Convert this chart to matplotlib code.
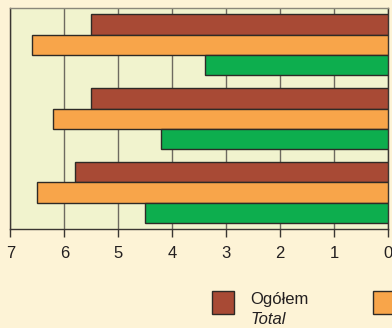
import matplotlib
matplotlib.use("Agg")
import matplotlib.pyplot as plt
from matplotlib.patches import Rectangle
import numpy as np

# Values per group (top to bottom), three series each
groups = ["A", "B", "C"]
ogolem = [5.5, 5.5, 5.8]
series2 = [6.6, 6.2, 6.5]
series3 = [3.4, 4.2, 4.5]
xticks = [7, 6, 5, 4, 3, 2, 1, 0]

RED = "#A84A35"
ORANGE = "#F8A54A"
GREEN = "#0DAE4E"
EDGE = "#2E2A26"
FIG_BG = "#FDF3D6"
AX_BG = "#F1F3CE"

FONT = ["Liberation Sans Narrow", "Liberation Sans", "DejaVu Sans"]

fig = plt.figure(figsize=(3.92, 3.28), dpi=100, facecolor=FIG_BG)
ax = fig.add_axes([10.3 / 392, 1 - 229.3 / 328, (388 - 10.3) / 392, (229.3 - 8.3) / 328])
ax.set_facecolor(AX_BG)

y = np.arange(len(groups))
h = 0.273
for vals, off, col in [(ogolem, -h, RED), (series2, 0.0, ORANGE), (series3, h, GREEN)]:
    ax.barh(y + off, vals, height=h, color=col, edgecolor=EDGE, linewidth=1.0, zorder=3)

ax.set_xlim(7, 0)
ax.set_ylim(2.497, -0.492)
ax.set_xticks(xticks)
ax.set_xticklabels([str(t) for t in xticks], fontsize=12, family=FONT, color="#231F20")
ax.set_yticks([])
ax.tick_params(axis="x", length=6, width=1.0, color="#3A3632", pad=6)
ax.grid(axis="x", color="#6E6A60", linewidth=1.0, zorder=1)

for side in ["left", "right", "bottom"]:
    ax.spines[side].set_color("#3A3632")
    ax.spines[side].set_linewidth(1.0)
ax.spines["top"].set_color("#8A877A")
ax.spines["top"].set_linewidth(1.0)

# Legend drawn in figure pixel coordinates
def px_rect(x0, y0, w, hh, col):
    fig.patches.append(Rectangle((x0 / 392, 1 - (y0 + hh) / 328), w / 392, hh / 328,
                                 transform=fig.transFigure, facecolor=col,
                                 edgecolor=EDGE, linewidth=1.0))

px_rect(211.7, 291, 22.6, 23.3, RED)
px_rect(373.3, 291, 22.6, 23.3, ORANGE)
fig.text(250.5 / 392, 1 - 299.5 / 328, "Ogółem", fontsize=12, family=FONT,
         va="center", ha="left", color="#231F20")
fig.text(250.5 / 392, 1 - 320 / 328, "Total", fontsize=12, family=FONT, style="italic",
         va="center", ha="left", color="#231F20")

fig.savefig("out.png", dpi=100, facecolor=FIG_BG)
